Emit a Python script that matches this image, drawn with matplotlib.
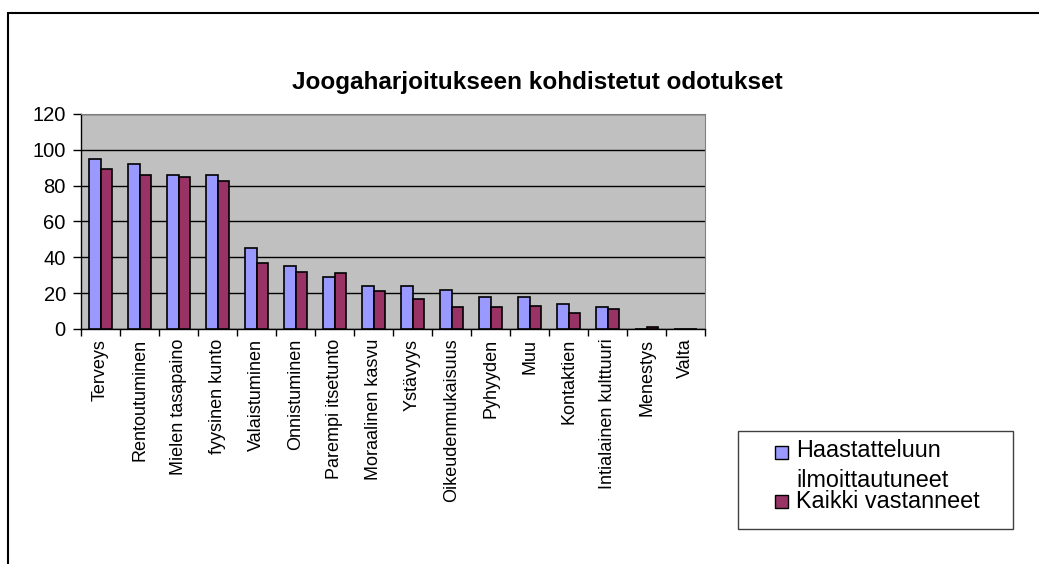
import matplotlib.pyplot as plt
import numpy as np
from matplotlib.patches import Rectangle

plt.rcParams["font.family"] = ["Liberation Sans", "DejaVu Sans"]

categories = [
    "Terveys", "Rentoutuminen", "Mielen tasapaino", "fyysinen kunto",
    "Valaistuminen", "Onnistuminen", "Parempi itsetunto", "Moraalinen kasvu",
    "Ystävyys", "Oikeudenmukaisuus", "Pyhyyden", "Muu", "Kontaktien",
    "Intialainen kulttuuri", "Menestys", "Valta",
]
haastattelu = [95, 92, 86, 86, 45, 35, 29, 24, 24, 21.5, 18, 18, 14, 12, 0, 0]
kaikki = [89.5, 86, 85, 82.5, 37, 32, 31, 21, 17, 12, 12, 13, 9, 11, 1, 0]
series_names = ["Haastatteluun\nilmoittautuneet", "Kaikki vastanneet"]
series_colors = ["#9999FF", "#993366"]

fig = plt.figure(figsize=(10.39, 5.64), dpi=100)
ax = fig.add_axes([0.078, 0.4167, 0.6006, 0.3812])

x = np.arange(len(categories))
w = 0.29
ax.bar(x - w / 2, haastattelu, w, color=series_colors[0], edgecolor="black", linewidth=1.2, zorder=3)
ax.bar(x + w / 2, kaikki, w, color=series_colors[1], edgecolor="black", linewidth=1.2, zorder=3)

ax.set_facecolor("#C0C0C0")
ax.set_xlim(-0.5, len(categories) - 0.5)
ax.set_ylim(0, 120)
ax.set_yticks(range(0, 121, 20))
ax.yaxis.grid(True, color="black", linewidth=1.0, zorder=1)
ax.set_axisbelow(True)

ax.set_xticks(np.arange(-0.5, len(categories), 1.0))
ax.set_xticklabels([])
ax.set_xticks(x, minor=True)
ax.set_xticklabels(categories, minor=True, rotation=90, ha="center", va="top", fontsize=13)
ax.tick_params(axis="x", which="minor", length=0, pad=7)
ax.tick_params(axis="x", which="major", length=5, width=1, color="black")
ax.tick_params(axis="y", length=6, width=1, labelsize=14.5, pad=5)

for side in ["top", "right"]:
    ax.spines[side].set_color("#808080")
    ax.spines[side].set_linewidth(0.8)
for side in ["left", "bottom"]:
    ax.spines[side].set_color("black")
    ax.spines[side].set_linewidth(1.0)

fig.text(0.517, 0.853, "Joogaharjoitukseen kohdistetut odotukset", ha="center", va="center",
         fontsize=17.5, fontweight="bold")

# legend drawn by hand so the marker sits beside the first line of a two-line label
W, H = 1039, 564
fig.patches.append(Rectangle((738 / W, 1 - 529 / H), 275 / W, 98 / H, transform=fig.transFigure,
                             fill=False, edgecolor="#404040", linewidth=1.0))
marker_tops = [446, 495]
line_baselines = [[457, 487], [508]]
for name, color, top, baselines in zip(series_names, series_colors, marker_tops, line_baselines):
    fig.patches.append(Rectangle((775 / W, 1 - (top + 13) / H), 13 / W, 13 / H,
                                 transform=fig.transFigure, facecolor=color,
                                 edgecolor="black", linewidth=1.0))
    for line, base in zip(name.split("\n"), baselines):
        fig.text(796 / W, 1 - base / H, line, ha="left", va="baseline", fontsize=16.8)

fig.patches.append(Rectangle((8 / W, -0.1), 1.2, 1 - 13 / H + 0.1,
                             transform=fig.transFigure, fill=False,
                             edgecolor="black", linewidth=1.5))

fig.savefig("out.png", dpi=100)
